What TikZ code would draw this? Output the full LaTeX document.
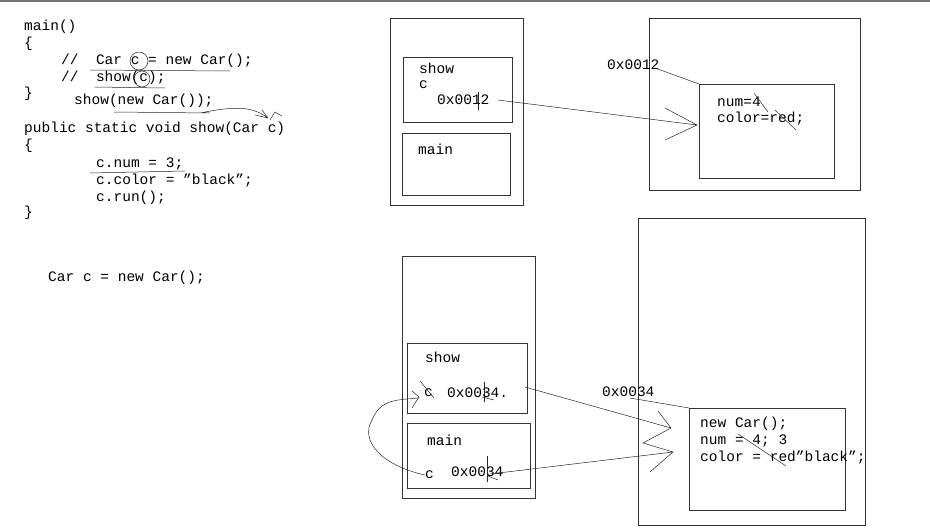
\documentclass[tikz,border=0pt]{standalone}
\usepackage{fontspec}
\setmainfont{Liberation Mono}
\begin{document}
\begin{tikzpicture}[x=1pt,y=-1pt,
  box/.style={draw=black!80,line width=0.6pt},
  t/.style={anchor=west,inner sep=0pt,font=\fontsize{14.5}{16}\selectfont},
  hand/.style={draw=black!85,line width=0.5pt}]
\useasboundingbox (0,0) rectangle (930,528);
\fill[black!55] (0,0) rectangle (930,1.5);
% code
\node[t] (l1) at (24,27) {main()};
\node[t] (l2) at (24,44) {\{};
\node[t] (l3) at (61,61) {//\ \ Car c = new Car();};
\node[t] (l4) at (61,78) {//\ \ show(c);};
\node[t] (l5) at (24,94) {\}};
\node[t] (l6) at (74,101) {show(new Car());};
\node[t] (l7) at (24,129) {public static void show(Car c)};
\node[t] (l8) at (24,146) {\{};
\node[t] (l9) at (96,164) {c.num = 3;};
\node[t] (l10) at (96,181) {c.color = "black";};
\node[t] (l11) at (96,198) {c.run();};
\node[t] (l12) at (24,213) {\}};
\node[t] (l13) at (48,278) {Car c = new Car();};
\path[hand] (90,70) -- (230,71) (95,87) -- (165,88) (114,112) -- (210,113)
  (90,173) -- (185,171) (200,113) .. controls (235,106) and (252,106) .. (268,118)
  (255,115) -- (268,118) -- (262,110) (270,120) -- (275,112) -- (282,116);
\draw[hand] (139,61) ellipse (9 and 9);
\draw[hand] (142,79) ellipse (8 and 8);
% top stack
\node[box,minimum width=133,minimum height=187,anchor=north west] (ts) at (390,18) {};
\node[box,minimum width=109,minimum height=65,anchor=north west] (tshow) at (403,57) {};
\node[box,minimum width=108,minimum height=62,anchor=north west] (tmain) at (402,133) {};
\node[t] (tst) at (419,68) {show};
\node[t] (tc) at (419,85) {c};
\node[t] (tv) at (437,100) {0x0012};
\node[t] (tmt) at (418,149) {main};
\draw[hand] (478,92) -- (478,110);
% top heap
\node[box,minimum width=211,minimum height=172,anchor=north west] (th) at (649,18) {};
\node[box,minimum width=135,minimum height=94,anchor=north west] (thi) at (699,84) {};
\node[t] (ta) at (607,65) {0x0012};
\node[t] (tn) at (717,102) {num=4};
\node[t] (tcol) at (717,119) {color=red;};
\path[hand] (655,68) -- (thi.north west);
\path[hand] (498,100) -- (697,125) (665,108) -- (697,125) -- (665,140);
\path[hand] (754,93) -- (768,112) (775,110) -- (796,130);
% bottom stack
\node[box,minimum width=133,minimum height=242,anchor=north west] (bs) at (402,256) {};
\node[box,minimum width=120,minimum height=70,anchor=north west] (bshow) at (407,343) {};
\node[box,minimum width=123,minimum height=65,anchor=north west] (bmain) at (407,423) {};
\node[t] (bst) at (425,357) {show};
\node[t] (bc1) at (424,393) {c};
\node[t] (bv1) at (447,393) {0x0034.};
\node[t] (bmt) at (427,440) {main};
\node[t] (bc2) at (425,475) {c};
\node[t] (bv2) at (451,472) {0x0034};
\draw[hand] (484,382) -- (484,402) (487,456) -- (487,482);
\path[hand] (420,381) -- (434,398) (482,397) -- (494,400) (488,476) -- (498,480);
% bottom heap
\node[box,minimum width=227,minimum height=307,anchor=north west] (bh) at (638,218) {};
\node[box,minimum width=156,minimum height=102,anchor=north west] (bhi) at (689,408) {};
\node[t] (ba) at (602,392) {0x0034};
\node[t] (bn1) at (700,424) {new Car();};
\node[t] (bn2) at (700,441) {num = 4; 3};
\node[t] (bn3) at (700,458) {color = red"black";};
\path[hand] (630,398) -- (bhi.north west);
\path[hand] (525,387) -- (671,428) (490,474) -- (673,452)
  (658,411) -- (671,428) -- (643,443) -- (673,452) -- (650,472);
\path[hand] (738,434) -- (786,466);
\path[hand] (bc2.west) .. controls (380,465) and (360,440) .. (372,420)
  .. controls (380,400) and (395,400) .. (418,398)
  (412,391) -- (419,397) -- (412,408);
\end{tikzpicture}
\end{document}
